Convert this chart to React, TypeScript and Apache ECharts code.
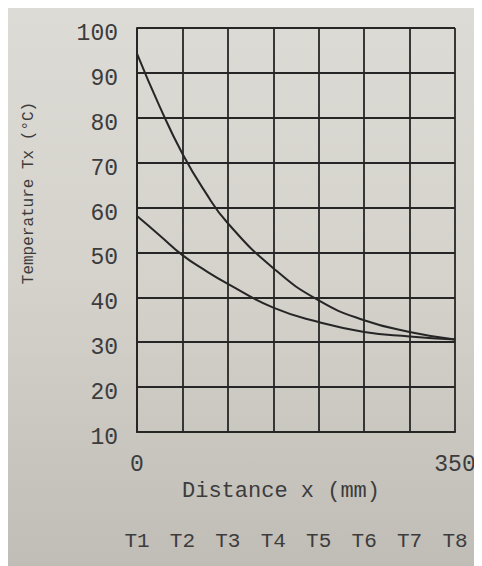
import React, { useEffect, useRef } from "react";
import * as echarts from "echarts";

const distances = [0, 25, 50, 75, 100, 150, 200, 250, 300, 350];
const upperTemps = [94.3, 82.5, 72.0, 63.5, 56.5, 46.5, 39.3, 34.9, 32.3, 30.6];
const lowerTemps = [58.1, 53.8, 49.4, 46.0, 43.0, 37.7, 34.5, 32.3, 31.3, 30.6];
const sensorLabels = ["T1", "T2", "T3", "T4", "T5", "T6", "T7", "T8"];
const shownXLabels = [0, 350];

const FONT = "'Liberation Mono', 'DejaVu Sans Mono', monospace";
const INK = "#262626";
const TEXT = "#3c3c3c";

export default function App() {
  const ref = useRef<HTMLDivElement>(null);
  useEffect(() => {
    if (!ref.current) return;
    const chart = echarts.init(ref.current, undefined, { renderer: "svg" });
    const pairs = (ys: number[]) => distances.map((d, i) => [d, ys[i]]);
    chart.setOption({
      animation: false,
      backgroundColor: "transparent",
      grid: { left: 129, top: 24, right: 27, bottom: 134 },
      xAxis: [
        {
          type: "value",
          min: 0,
          max: 350,
          interval: 50,
          position: "bottom",
          axisLine: { show: true, lineStyle: { color: INK, width: 2 } },
          axisTick: { show: false },
          splitLine: { show: true, lineStyle: { color: INK, width: 1.8 } },
          axisLabel: {
            margin: 21,
            fontFamily: FONT,
            fontSize: 23,
            color: TEXT,
            formatter: (v: number) => (shownXLabels.includes(v) ? String(v) : ""),
          },
          name: "Distance x (mm)",
          nameLocation: "middle",
          nameGap: 44,
          nameTextStyle: { fontFamily: FONT, fontSize: 22, color: TEXT, padding: [0, 30, 0, 0] },
        },
        {
          type: "value",
          min: 0,
          max: 350,
          interval: 50,
          position: "bottom",
          offset: 91,
          axisLine: { show: false },
          axisTick: { show: false },
          splitLine: { show: false },
          axisLabel: {
            margin: 8,
            fontFamily: FONT,
            fontSize: 21,
            color: TEXT,
            formatter: (v: number) => sensorLabels[Math.round(v / 50)] ?? "",
          },
        },
      ],
      yAxis: {
        type: "value",
        min: 10,
        max: 100,
        interval: 10,
        axisLine: { show: true, lineStyle: { color: INK, width: 2 } },
        axisTick: { show: false },
        splitLine: { show: true, lineStyle: { color: INK, width: 1.8 } },
        axisLabel: {
          margin: 19,
          fontFamily: FONT,
          fontSize: 23,
          color: TEXT,
          verticalAlign: "top",
          lineHeight: 12,
        },
        name: "Temperature Tx (°C)",
        nameLocation: "middle",
        nameGap: 100,
        nameTextStyle: { fontFamily: FONT, fontSize: 16, color: TEXT, padding: [0, 0, 0, 74] },
      },
      series: [
        {
          type: "line",
          data: pairs(upperTemps),
          smooth: true,
          symbol: "none",
          lineStyle: { color: INK, width: 2 },
        },
        {
          type: "line",
          data: pairs(lowerTemps),
          smooth: true,
          symbol: "none",
          lineStyle: { color: INK, width: 2 },
        },
      ],
    });
    return () => chart.dispose();
  }, []);
  return (
    <div
      style={{
        width: 474,
        height: 562,
        marginTop: -4,
        background: "linear-gradient(180deg, #dddbd5 0%, #d5d2cc 50%, #c0bcb6 100%)",
      }}
    >
      <div ref={ref} style={{ width: 474, height: 562 }} />
    </div>
  );
}
